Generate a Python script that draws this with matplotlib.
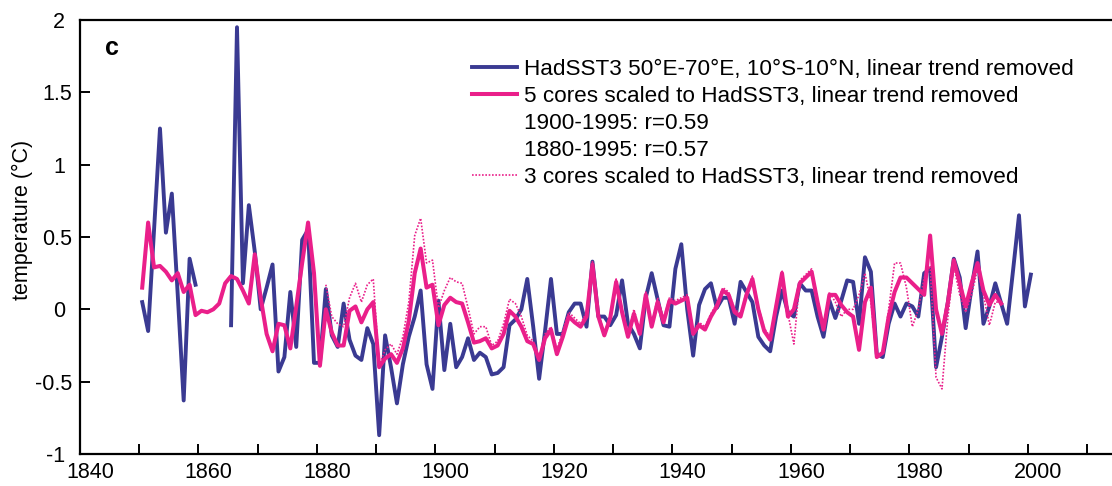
import numpy as np
import matplotlib
matplotlib.use('Agg')
import matplotlib.pyplot as plt
from matplotlib.lines import Line2D
from matplotlib import transforms

plt.rcParams['font.family'] = ['Liberation Sans', 'DejaVu Sans']

nan = np.nan

# HadSST3 box mean 50E-70E, 10S-10N, detrended (gap 1860-1864)
sst_years = np.arange(1850, 2001)
sst = [
    0.05, -0.15, 0.55, 1.25, 0.53, 0.80, 0.10, -0.63, 0.35, 0.17,
    nan, nan, nan, nan, nan, -0.11, 1.95, 0.18, 0.72, 0.40,
    0.00, 0.15, 0.31, -0.43, -0.33, 0.12, -0.26, 0.48, 0.55, -0.37,
    -0.37, 0.14, -0.18, -0.26, 0.04, -0.21, -0.32, -0.35, -0.13, -0.24,
    -0.87, -0.18, -0.40, -0.65, -0.38, -0.19, -0.05, 0.13, -0.38, -0.55,
    0.06, -0.42, -0.10, -0.40, -0.33, -0.20, -0.35, -0.30, -0.33, -0.45,
    -0.44, -0.40, -0.11, -0.07, 0.00, 0.21, -0.12, -0.48, -0.15, 0.21,
    -0.17, -0.17, -0.02, 0.04, 0.04, -0.12, 0.33, -0.05, -0.05, -0.11,
    -0.04, 0.20, -0.10, -0.17, -0.27, 0.08, 0.25, 0.07, -0.11, -0.12,
    0.28, 0.45, 0.00, -0.32, 0.03, 0.14, 0.18, 0.01, 0.08, 0.08,
    -0.10, 0.19, 0.12, 0.05, -0.19, -0.25, -0.29, -0.05, 0.13, -0.02,
    -0.05, 0.18, 0.13, 0.13, -0.05, -0.19, 0.06, -0.06, 0.06, 0.20,
    0.19, -0.10, 0.36, 0.26, -0.31, -0.33, -0.10, 0.04, -0.05, 0.04,
    0.02, -0.05, 0.25, 0.28, -0.40, -0.19, 0.05, 0.35, 0.22, -0.13,
    0.15, 0.40, -0.10, 0.02, 0.18, 0.04, -0.10, 0.27, 0.65, 0.02,
    0.24,
]

# 5-core composite scaled to HadSST3, detrended
cores5_years = np.arange(1850, 1996)
cores5 = [
    0.15, 0.60, 0.29, 0.30, 0.26, 0.20, 0.25, 0.12, 0.17, -0.04,
    -0.01, -0.02, 0.00, 0.04, 0.18, 0.23, 0.21, 0.13, 0.04, 0.38,
    0.08, -0.17, -0.29, -0.10, -0.11, -0.27, 0.02, 0.32, 0.60, 0.25,
    -0.39, 0.00, -0.16, -0.25, -0.25, -0.01, 0.02, -0.09, 0.00, 0.05,
    -0.40, -0.34, -0.31, -0.37, -0.27, -0.08, 0.25, 0.42, 0.15, 0.17,
    -0.11, 0.03, 0.08, 0.05, 0.04, -0.09, -0.23, -0.22, -0.20, -0.27,
    -0.25, -0.17, -0.01, -0.05, -0.12, -0.22, -0.24, -0.35, -0.20, -0.14,
    -0.31, -0.19, -0.05, -0.09, -0.12, -0.05, 0.31, -0.05, -0.18, -0.06,
    0.19, -0.02, -0.19, -0.03, -0.17, 0.10, -0.12, 0.05, -0.09, 0.06,
    0.04, 0.06, 0.08, -0.17, -0.11, -0.14, -0.05, 0.02, 0.13, 0.10,
    -0.02, -0.05, 0.10, 0.21, 0.00, -0.15, -0.21, 0.02, 0.25, -0.05,
    0.00, 0.18, 0.22, 0.26, 0.05, -0.14, 0.10, 0.10, 0.03, -0.02,
    -0.05, -0.28, 0.05, 0.15, -0.33, -0.30, -0.05, 0.12, 0.22, 0.22,
    0.18, 0.14, 0.10, 0.51, 0.00, -0.17, 0.05, 0.34, 0.18, 0.02,
    0.18, 0.32, 0.13, 0.03, 0.10, 0.04,
]

# 3-core composite scaled to HadSST3, detrended
cores3_years = np.arange(1881, 1996)
cores3 = [
    0.17, -0.05, -0.10, -0.12, 0.08, 0.18, 0.05, 0.17, 0.21,
    -0.39, -0.28, -0.24, -0.31, -0.19, 0.05, 0.51, 0.63, 0.32, 0.34,
    0.01, 0.13, 0.22, 0.19, 0.18, 0.01, -0.17, -0.12, -0.12, -0.25,
    -0.22, -0.10, 0.07, 0.04, -0.05, -0.18, -0.22, -0.33, -0.17, -0.12,
    -0.28, -0.15, -0.02, -0.06, -0.10, -0.02, 0.33, -0.02, -0.16, -0.04,
    0.21, 0.00, -0.17, 0.00, -0.15, 0.12, -0.10, 0.08, -0.07, 0.08,
    0.06, 0.08, 0.10, -0.15, -0.09, -0.12, -0.03, 0.04, 0.15, 0.12,
    0.00, -0.03, 0.12, 0.23, 0.02, -0.13, -0.19, 0.04, 0.27, -0.03,
    -0.24, 0.20, 0.24, 0.28, 0.07, -0.13, 0.12, 0.05, -0.05, 0.00,
    0.00, 0.10, 0.25, 0.05, -0.33, -0.30, 0.00, 0.32, 0.32, 0.15,
    -0.12, 0.00, 0.22, 0.30, -0.47, -0.55, -0.05, 0.30, 0.10, -0.02,
    0.10, 0.28, 0.10, -0.11, 0.05, 0.05,
]

blue = '#3a3a92'
pink = '#ea1f8a'

fig = plt.figure(figsize=(11.12, 4.86), dpi=100)
ax = fig.add_axes([80 / 1112, 32 / 486, 1032 / 1112, 434 / 486])

# annual values plotted at mid-year
ax.plot(sst_years + 0.5, sst, color=blue, lw=2.8)
ax.plot(cores5_years + 0.5, cores5, color=pink, lw=2.9)
ax.plot(cores3_years + 0.5, cores3, color=pink, lw=1.2, ls=(0, (1, 1)))

ax.set_xlim(1840, 2014.2)
ax.set_ylim(-1, 2)
ax.set_xticks(np.arange(1840, 2001, 20))
ax.set_xticks(np.arange(1850, 2011, 10), minor=True)
ax.set_yticks(np.arange(-1, 2.01, 0.5))
ax.set_yticklabels(['-1', '-0.5', '0', '0.5', '1', '1.5', '2'])
ax.tick_params(axis='both', which='both', direction='in', length=7, width=1.4,
               labelsize=15.5)
ax.tick_params(axis='y', pad=5.5)
ax.tick_params(axis='x', which='major', pad=6)
for spine in ax.spines.values():
    spine.set_linewidth(1.6)
ax.spines['right'].set_visible(False)

# year labels sit a little right of their ticks; whole numbers sit left
shift = transforms.ScaledTranslation(0.10, 0, fig.dpi_scale_trans)
for lab in ax.get_xticklabels():
    lab.set_transform(lab.get_transform() + shift)
ishift = transforms.ScaledTranslation(-0.07, 0, fig.dpi_scale_trans)
for lab in ax.get_yticklabels():
    if '.' not in lab.get_text():
        lab.set_transform(lab.get_transform() + ishift)

ax.set_ylabel('temperature (°C)', fontsize=15.5, labelpad=1.5)
ax.yaxis.label.set_y(0.54)
ax.text(0.0305, 0.919, 'c', transform=ax.transAxes, fontsize=18,
        fontweight='bold', ha='center', va='baseline')

handles = [
    Line2D([], [], color=blue, lw=2.8),
    Line2D([], [], color=pink, lw=2.9),
    Line2D([], [], color='none'),
    Line2D([], [], color='none'),
    Line2D([], [], color=pink, lw=1.2, ls=(0, (1, 1))),
]
labels = [
    'HadSST3 50°E-70°E, 10°S-10°N, linear trend removed',
    '5 cores scaled to HadSST3, linear trend removed',
    '1900-1995: r=0.59',
    '1880-1995: r=0.57',
    '3 cores scaled to HadSST3, linear trend removed',
]
ax.legend(handles, labels, loc='upper left', bbox_to_anchor=(0.38, 0.91),
          frameon=False, fontsize=16.2, handlelength=2.0, handletextpad=0.3,
          labelspacing=0.27, borderaxespad=0, borderpad=0)

fig.savefig('out.png', dpi=100)
